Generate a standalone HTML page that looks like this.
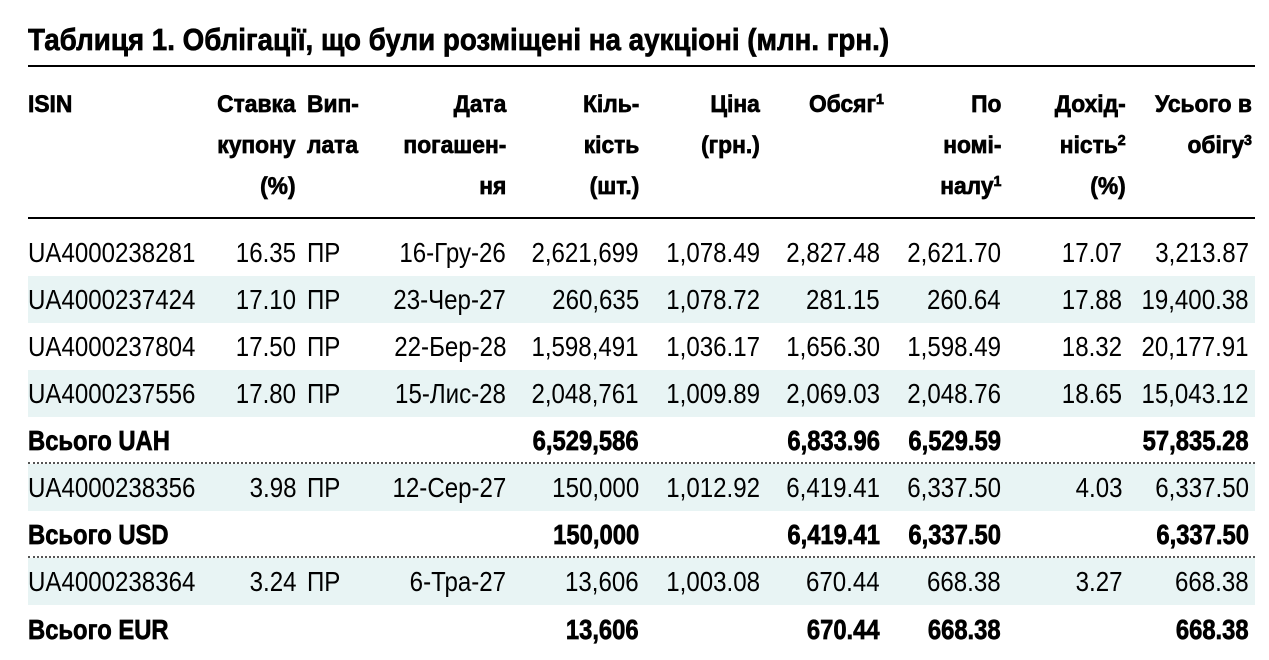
<!DOCTYPE html>
<html><head><meta charset="utf-8"><style>
body{margin:0;width:1269px;height:660px;background:#fff;overflow:hidden;font-family:"Liberation Sans",sans-serif;color:#000;position:relative}
.t{position:absolute;left:28px;top:22px;font-size:31px;font-weight:700;white-space:nowrap;transform:scaleX(0.895);transform-origin:left top;-webkit-text-stroke:0.7px #000}
.rule{position:absolute;left:28px;width:1227px;height:2px;background:#000}
.h{position:absolute;font-weight:700;font-size:24px;line-height:41px;white-space:nowrap;transform:scaleX(0.95);-webkit-text-stroke:0.7px #000}
.hl{transform-origin:left top}
.hr{transform-origin:right top;text-align:right}
.r{position:absolute;left:28px;width:1227px;height:47px}
.sh{background:#e8f4f4}
.c{position:absolute;top:0;line-height:47px;font-size:28px;white-space:nowrap;transform:scaleX(0.86)}
.r .c[style*="right"]{transform-origin:right center}
.r .c[style*="left"]{transform-origin:left center}
.b{font-weight:700;transform:scaleX(0.85);-webkit-text-stroke:0.7px #000}
.dot{position:absolute;left:28px;width:1227px;border-top:2px dotted #555}
sup{font-size:15px;vertical-align:top;position:relative;top:-5px}
</style></head><body>
<div class="t">Таблиця 1. Облігації, що були розміщені на аукціоні (млн. грн.)</div>
<div class="rule" style="top:65px"></div>
<div class="h hl" style="left:28px;top:84px">ISIN</div>
<div class="h hr" style="right:973px;top:84px">Ставка<br>купону<br>(%)</div>
<div class="h hl" style="left:307px;top:84px">Вип-<br>лата</div>
<div class="h hr" style="right:763px;top:84px">Дата<br>погашен-<br>ня</div>
<div class="h hr" style="right:630px;top:84px">Кіль-<br>кість<br>(шт.)</div>
<div class="h hr" style="right:509px;top:84px">Ціна<br>(грн.)</div>
<div class="h hr" style="right:385px;top:84px">Обсяг<sup>1</sup></div>
<div class="h hr" style="right:268px;top:84px">По<br>номі-<br>налу<sup>1</sup></div>
<div class="h hr" style="right:143px;top:84px">Дохід-<br>ність<sup>2</sup><br>(%)</div>
<div class="h hr" style="right:17px;top:84px">Усього в<br>обігу<sup>3</sup></div>
<div class="rule" style="top:217px"></div>

<div class="r" style="top:229px"><span class="c" style="left:0">UA4000238281</span><span class="c" style="right:959px">16.35</span><span class="c" style="left:279px">ПР</span><span class="c" style="right:749px">16-Гру-26</span><span class="c" style="right:616px">2,621,699</span><span class="c" style="right:495px">1,078.49</span><span class="c" style="right:375px">2,827.48</span><span class="c" style="right:254px">2,621.70</span><span class="c" style="right:133px">17.07</span><span class="c" style="right:6px">3,213.87</span></div>
<div class="r sh" style="top:276px"><span class="c" style="left:0">UA4000237424</span><span class="c" style="right:959px">17.10</span><span class="c" style="left:279px">ПР</span><span class="c" style="right:749px">23-Чер-27</span><span class="c" style="right:616px">260,635</span><span class="c" style="right:495px">1,078.72</span><span class="c" style="right:375px">281.15</span><span class="c" style="right:254px">260.64</span><span class="c" style="right:133px">17.88</span><span class="c" style="right:6px">19,400.38</span></div>
<div class="r" style="top:323px"><span class="c" style="left:0">UA4000237804</span><span class="c" style="right:959px">17.50</span><span class="c" style="left:279px">ПР</span><span class="c" style="right:749px">22-Бер-28</span><span class="c" style="right:616px">1,598,491</span><span class="c" style="right:495px">1,036.17</span><span class="c" style="right:375px">1,656.30</span><span class="c" style="right:254px">1,598.49</span><span class="c" style="right:133px">18.32</span><span class="c" style="right:6px">20,177.91</span></div>
<div class="r sh" style="top:370px"><span class="c" style="left:0">UA4000237556</span><span class="c" style="right:959px">17.80</span><span class="c" style="left:279px">ПР</span><span class="c" style="right:749px">15-Лис-28</span><span class="c" style="right:616px">2,048,761</span><span class="c" style="right:495px">1,009.89</span><span class="c" style="right:375px">2,069.03</span><span class="c" style="right:254px">2,048.76</span><span class="c" style="right:133px">18.65</span><span class="c" style="right:6px">15,043.12</span></div>
<div class="r" style="top:417px"><span class="c b" style="left:0">Всього UAH</span><span class="c b" style="right:616px">6,529,586</span><span class="c b" style="right:375px">6,833.96</span><span class="c b" style="right:254px">6,529.59</span><span class="c b" style="right:6px">57,835.28</span></div>
<div class="dot" style="top:462px"></div>
<div class="r sh" style="top:464px"><span class="c" style="left:0">UA4000238356</span><span class="c" style="right:959px">3.98</span><span class="c" style="left:279px">ПР</span><span class="c" style="right:749px">12-Сер-27</span><span class="c" style="right:616px">150,000</span><span class="c" style="right:495px">1,012.92</span><span class="c" style="right:375px">6,419.41</span><span class="c" style="right:254px">6,337.50</span><span class="c" style="right:133px">4.03</span><span class="c" style="right:6px">6,337.50</span></div>
<div class="r" style="top:511px"><span class="c b" style="left:0">Всього USD</span><span class="c b" style="right:616px">150,000</span><span class="c b" style="right:375px">6,419.41</span><span class="c b" style="right:254px">6,337.50</span><span class="c b" style="right:6px">6,337.50</span></div>
<div class="dot" style="top:556px"></div>
<div class="r sh" style="top:558px"><span class="c" style="left:0">UA4000238364</span><span class="c" style="right:959px">3.24</span><span class="c" style="left:279px">ПР</span><span class="c" style="right:749px">6-Тра-27</span><span class="c" style="right:616px">13,606</span><span class="c" style="right:495px">1,003.08</span><span class="c" style="right:375px">670.44</span><span class="c" style="right:254px">668.38</span><span class="c" style="right:133px">3.27</span><span class="c" style="right:6px">668.38</span></div>
<div class="r" style="top:606px"><span class="c b" style="left:0">Всього EUR</span><span class="c b" style="right:616px">13,606</span><span class="c b" style="right:375px">670.44</span><span class="c b" style="right:254px">668.38</span><span class="c b" style="right:6px">668.38</span></div>
</body></html>
